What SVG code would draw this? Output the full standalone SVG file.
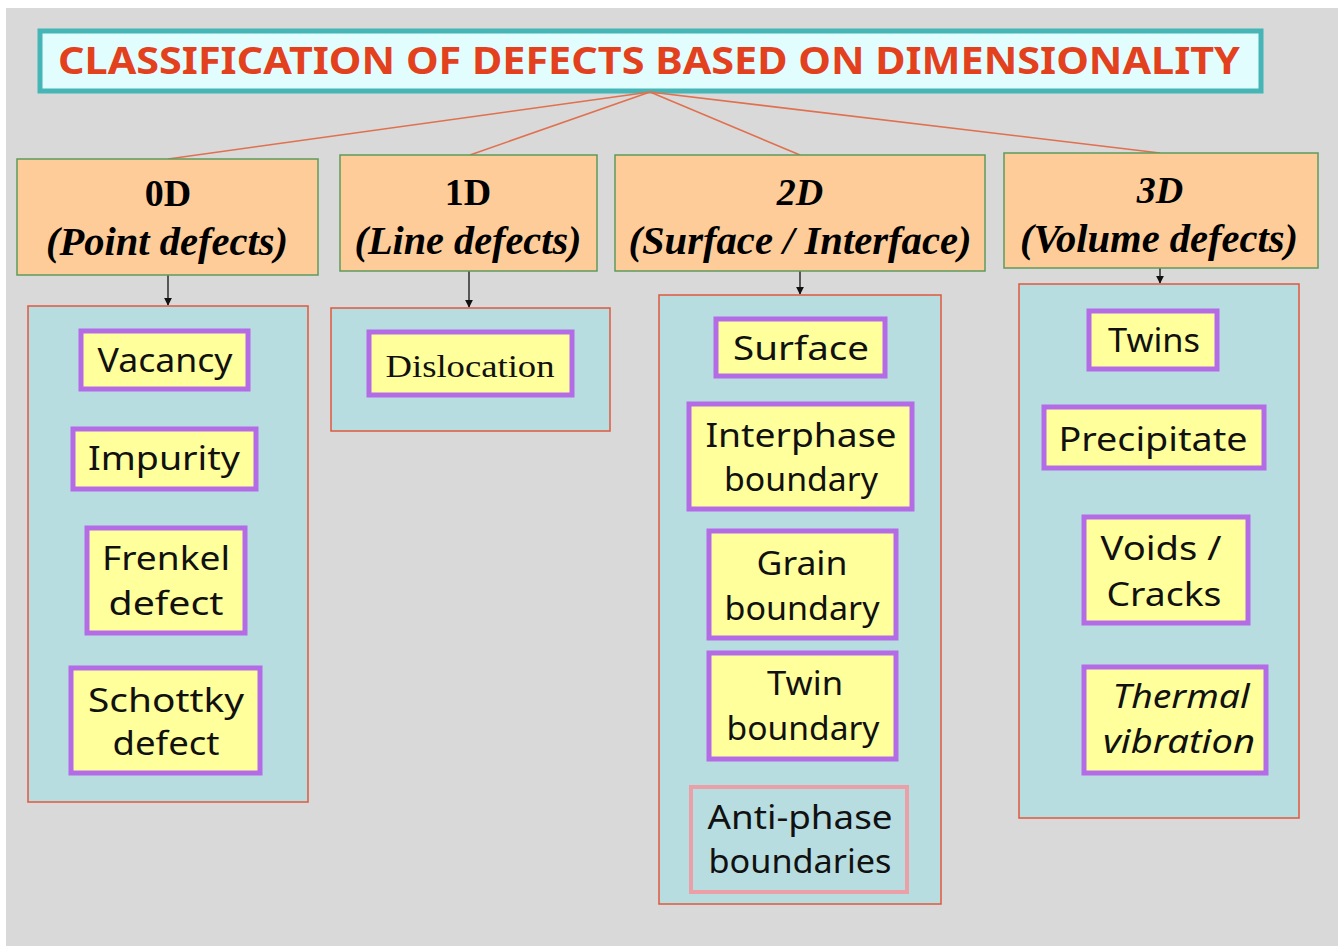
<svg xmlns="http://www.w3.org/2000/svg" width="1338" height="946" viewBox="0 0 1338 946">
<defs>
<marker id="ah" viewBox="0 0 10 10" refX="9" refY="5" markerWidth="8" markerHeight="8" orient="auto" markerUnits="userSpaceOnUse">
<path d="M0,0 L10,5 L0,10 z" fill="#111"/>
</marker>
<style>
.hdr{fill:#fdcc99;stroke:#5f9a5c;stroke-width:1.5}
.cont{fill:#b7dde0;stroke:#e0573c;stroke-width:1.5}
.item{fill:#ffff9c;stroke:#b46be6;stroke-width:5}
.apb{fill:#b7dde0;stroke:#eaa0a6;stroke-width:4}
.tl{stroke:#e0704e;stroke-width:1.6;fill:none}
.arr{stroke:#111;stroke-width:1.3;fill:none}
.ht{font-family:"Liberation Serif","Times New Roman",serif;font-weight:bold;font-size:38px;fill:#000;text-anchor:middle}
.st{font-family:"Liberation Serif","Times New Roman",serif;font-weight:bold;font-style:italic;font-size:40px;fill:#000;text-anchor:middle}
.it{font-family:"Noto Sans","DejaVu Sans",sans-serif;font-size:32px;fill:#111;text-anchor:middle}
.tt{font-family:"Noto Sans","DejaVu Sans",sans-serif;font-weight:bold;font-size:38px;fill:#e3401e;text-anchor:middle}
</style>
</defs>
<rect x="0" y="0" width="1338" height="946" fill="#ffffff"/>
<rect x="6" y="8" width="1332" height="938" fill="#d9d9d9"/>

<g id="title">
<rect x="40" y="31" width="1221" height="60" fill="#e2fdfd" stroke="#45b5b5" stroke-width="5"/>
<text class="tt" x="649" y="74" textLength="1182" lengthAdjust="spacingAndGlyphs">CLASSIFICATION OF DEFECTS BASED ON DIMENSIONALITY</text>
</g>

<g id="connectors">
<line class="tl" x1="650" y1="92" x2="168" y2="159"/>
<line class="tl" x1="650" y1="92" x2="470" y2="155"/>
<line class="tl" x1="650" y1="92" x2="800" y2="155"/>
<line class="tl" x1="650" y1="92" x2="1160" y2="153"/>
<line class="arr" x1="168" y1="275" x2="168" y2="305" marker-end="url(#ah)"/>
<line class="arr" x1="469" y1="271" x2="469" y2="307" marker-end="url(#ah)"/>
<line class="arr" x1="800" y1="271" x2="800" y2="294" marker-end="url(#ah)"/>
<line class="arr" x1="1160" y1="268" x2="1160" y2="283" marker-end="url(#ah)"/>
</g>

<g id="h0d">
<rect class="hdr" x="17" y="159" width="301" height="116"/>
<text class="ht" x="168" y="206">0D</text>
<text class="st" x="167" y="255" textLength="242" lengthAdjust="spacingAndGlyphs">(Point defects)</text>
</g>
<g id="h1d">
<rect class="hdr" x="340" y="155" width="257" height="116"/>
<text class="ht" x="468" y="205">1D</text>
<text class="st" x="468" y="254" textLength="227" lengthAdjust="spacingAndGlyphs">(Line defects)</text>
</g>
<g id="h2d">
<rect class="hdr" x="615" y="155" width="370" height="116"/>
<text class="ht" x="800" y="205" font-style="italic">2D</text>
<text class="st" x="800" y="254" textLength="343" lengthAdjust="spacingAndGlyphs">(Surface / Interface)</text>
</g>
<g id="h3d">
<rect class="hdr" x="1004" y="153" width="314" height="115"/>
<text class="ht" x="1160" y="203" font-style="italic">3D</text>
<text class="st" x="1159" y="252" textLength="278" lengthAdjust="spacingAndGlyphs">(Volume defects)</text>
</g>

<g id="c0d"><rect class="cont" x="28" y="306" width="280" height="496"/></g>
<g id="c1d"><rect class="cont" x="331" y="308" width="279" height="123"/></g>
<g id="c2d"><rect class="cont" x="659" y="295" width="282" height="609"/></g>
<g id="c3d"><rect class="cont" x="1019" y="284" width="280" height="534"/></g>

<g id="vacancy"><rect class="item" x="81" y="331" width="167" height="58"/>
<text class="it" x="165" y="372" textLength="135" lengthAdjust="spacingAndGlyphs">Vacancy</text></g>
<g id="impurity"><rect class="item" x="73" y="429" width="183" height="60"/>
<text class="it" x="164" y="470" textLength="152" lengthAdjust="spacingAndGlyphs">Impurity</text></g>
<g id="frenkel"><rect class="item" x="87" y="528" width="158" height="105"/>
<text class="it" x="166" y="570" textLength="128" lengthAdjust="spacingAndGlyphs">Frenkel</text>
<text class="it" x="166" y="615" textLength="115" lengthAdjust="spacingAndGlyphs">defect</text></g>
<g id="schottky"><rect class="item" x="71" y="668" width="189" height="105"/>
<text class="it" x="166" y="712" textLength="156" lengthAdjust="spacingAndGlyphs">Schottky</text>
<text class="it" x="166" y="755" textLength="107" lengthAdjust="spacingAndGlyphs">defect</text></g>

<g id="dislocation"><rect class="item" x="369" y="332" width="203" height="63"/>
<text x="470" y="377" font-family="Liberation Serif, serif" font-size="32" fill="#111" text-anchor="middle" textLength="169" lengthAdjust="spacingAndGlyphs">Dislocation</text></g>

<g id="surface"><rect class="item" x="716" y="319" width="169" height="57"/>
<text class="it" x="801" y="360" textLength="136" lengthAdjust="spacingAndGlyphs">Surface</text></g>
<g id="interphase"><rect class="item" x="689" y="404" width="223" height="105"/>
<text class="it" x="801" y="447" textLength="191" lengthAdjust="spacingAndGlyphs">Interphase</text>
<text class="it" x="801" y="491" textLength="154" lengthAdjust="spacingAndGlyphs">boundary</text></g>
<g id="grain"><rect class="item" x="709" y="531" width="187" height="107"/>
<text class="it" x="802" y="575" textLength="91" lengthAdjust="spacingAndGlyphs">Grain</text>
<text class="it" x="802" y="620" textLength="155" lengthAdjust="spacingAndGlyphs">boundary</text></g>
<g id="twinb"><rect class="item" x="709" y="653" width="187" height="106"/>
<text class="it" x="805" y="695" textLength="76" lengthAdjust="spacingAndGlyphs">Twin</text>
<text class="it" x="803" y="740" textLength="153" lengthAdjust="spacingAndGlyphs">boundary</text></g>
<g id="antiphase"><rect class="apb" x="691" y="787" width="216" height="105"/>
<text class="it" x="800" y="829" textLength="185" lengthAdjust="spacingAndGlyphs">Anti-phase</text>
<text class="it" x="800" y="873" textLength="183" lengthAdjust="spacingAndGlyphs">boundaries</text></g>

<g id="twins"><rect class="item" x="1089" y="311" width="128" height="58"/>
<text class="it" x="1154" y="352" textLength="92" lengthAdjust="spacingAndGlyphs">Twins</text></g>
<g id="precipitate"><rect class="item" x="1044" y="407" width="220" height="61"/>
<text class="it" x="1153" y="451" textLength="189" lengthAdjust="spacingAndGlyphs">Precipitate</text></g>
<g id="voids"><rect class="item" x="1084" y="517" width="164" height="106"/>
<text class="it" x="1161" y="560" textLength="121" lengthAdjust="spacingAndGlyphs">Voids /</text>
<text class="it" x="1164" y="606" textLength="115" lengthAdjust="spacingAndGlyphs">Cracks</text></g>
<g id="thermal"><rect class="item" x="1084" y="667" width="182" height="106"/>
<text class="it" x="1181" y="708" font-style="italic" textLength="137" lengthAdjust="spacingAndGlyphs">Thermal</text>
<text class="it" x="1179" y="753" font-style="italic" textLength="152" lengthAdjust="spacingAndGlyphs">vibration</text></g>
</svg>
